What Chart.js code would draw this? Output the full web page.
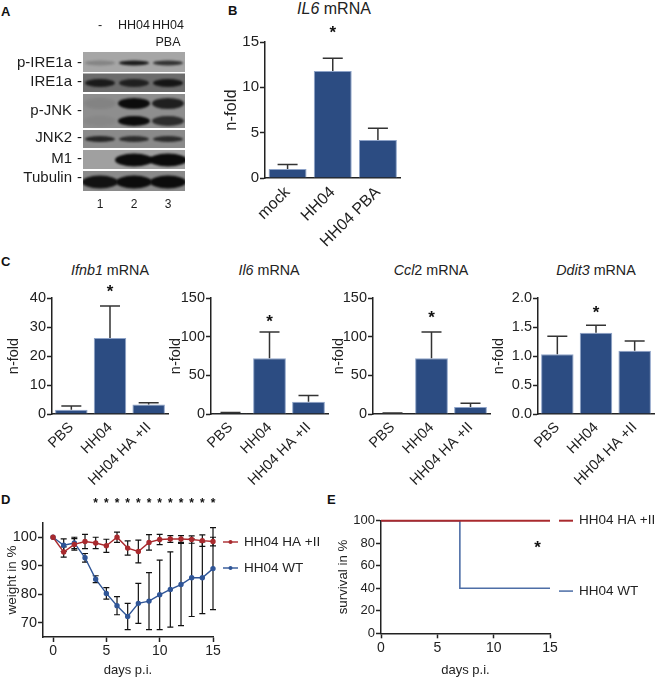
<!DOCTYPE html>
<html>
<head>
<meta charset="utf-8">
<script src="https://cdn.jsdelivr.net/npm/chart.js@4"></script>
<style>
  html, body { margin: 0; padding: 0; background: #fff; }
  #page { position: relative; width: 656px; height: 678px; overflow: hidden; font-family: "Liberation Sans", Arial, sans-serif; color: #222; }
  #page canvas { position: absolute; }
  .letter { position: absolute; font-weight: bold; font-size: 13px; color: #111; }
  .title { position: absolute; transform: translateX(-50%); white-space: nowrap; }
</style>
</head>
<body>
<div id="page">
  <div class="letter" style="left:1px;top:4px">A</div>
  <div class="letter" style="left:228px;top:3px">B</div>
  <div class="letter" style="left:1px;top:254px">C</div>
  <div class="letter" style="left:1px;top:492px">D</div>
  <div class="letter" style="left:327px;top:492px">E</div>
  <div class="title" style="left:334px;top:0px;font-size:16px"><i>IL6</i> mRNA</div>
  <div class="title" style="left:110px;top:262px;font-size:14.3px"><i>Ifnb1</i> mRNA</div>
  <div class="title" style="left:269px;top:262px;font-size:14.3px"><i>Il6</i> mRNA</div>
  <div class="title" style="left:431px;top:262px;font-size:14.3px"><i>Ccl</i>2 mRNA</div>
  <div class="title" style="left:596px;top:262px;font-size:14.3px"><i>Ddit3</i> mRNA</div>
</div>

<script>
// panel A
var blotRows = ['p-IRE1a', 'IRE1a', 'p-JNK', 'JNK2', 'M1', 'Tubulin'];
var blotLanes = ['1', '2', '3'];
var blotStrength = [
    [0.22, 0.9, 0.75],
    [0.85, 0.8, 0.9],
    [0.08, 1, 0.85],
    [0.05, 1, 0.75],
    [0.8, 0.75, 0.75],
    [0, 1, 1],
    [0.95, 1, 1]
];

// panel B
var bLabels = ['mock', 'HH04', 'HH04 PBA'];
var bValues = [1.0, 11.8, 4.2];
var bUpper = [1.5, 13.2, 5.5];
var bTicks = [0, 5, 10, 15];

// panel C
var cLabels = ['PBS', 'HH04', 'HH04 HA +II'];
var ifnb1Values = [1.5, 26.2, 3.3];
var ifnb1Upper = [2.8, 37.2, 3.9];
var ifnb1Ticks = [0, 10, 20, 30, 40];
var il6Values = [1, 72, 16];
var il6Upper = [2, 106, 24];
var ccl2Values = [0.6, 72, 9];
var ccl2Upper = [1.2, 106, 14];
var mouseTicks = [0, 50, 100, 150];
var ddit3Values = [1.03, 1.4, 1.09];
var ddit3Upper = [1.34, 1.53, 1.26];
var ddit3Ticks = [0, 0.5, 1, 1.5, 2];

// panel D
var days = [0, 1, 2, 3, 4, 5, 6, 7, 8, 9, 10, 11, 12, 13, 14, 15];
var haWeight = [100, 94.8, 97.5, 98.5, 98, 97, 100, 96.2, 95, 98.2, 99.2, 99.4, 99.4, 99.2, 98.8, 98.5];
var haError = [0, 1.8, 2, 2.5, 2, 2.3, 1.8, 2.5, 4, 2.7, 1.8, 1.2, 1.2, 1.3, 2, 1.5];
var wtWeight = [100, 97.2, 98, 92.8, 85.3, 80.3, 76, 72.2, 76.8, 77.6, 79.8, 81.7, 83.4, 85.8, 85.8, 89];
var wtError = [0, 2.2, 2, 1.5, 1.2, 2, 3.2, 4.6, 7, 10, 12.2, 13.2, 14.4, 13.6, 12.6, 14.4];
var weightTicks = [70, 80, 90, 100];
var dayTicks = [0, 5, 10, 15];
var starDays = [4, 5, 6, 7, 8, 9, 10, 11, 12, 13, 14, 15];

// panel E
var haSurvivalDays = [0, 15];
var haSurvival = [100, 100];
var wtSurvivalDays = [0, 7, 15];
var wtSurvival = [100, 40, 40];
var survivalTicks = [0, 20, 40, 60, 80, 100];

var FONT = '"Liberation Sans", Arial, sans-serif';
var INK = '#222';
var BAR = '#2c4c82';
var RED = '#a92a2e';
var BLUE = '#2f5597';

function addCanvas(box) {
    var c = document.createElement('canvas');
    c.width = box.w;
    c.height = box.h;
    c.style.left = box.x + 'px';
    c.style.top = box.y + 'px';
    document.getElementById('page').appendChild(c);
    return c;
}

// fixes the plot area to page pixels
function pinLayout(box, plot) {
    return {
        padding: { left: 0, top: plot.top - box.y, right: box.x + box.w - plot.right, bottom: 0 }
    };
}

function valueAxis(box, plot, ticks, max, min, size, titleText, titleSize, titleX, format) {
    return {
        type: 'linear',
        min: min,
        max: max,
        afterFit: function (s) { s.width = plot.left - box.x; },
        afterBuildTicks: function (s) { s.ticks = ticks.map(function (v) { return { value: v }; }); },
        border: { color: INK, width: 1.5 },
        grid: { drawOnChartArea: false, tickColor: INK, tickLength: 5, tickWidth: 1.5 },
        ticks: {
            color: INK, padding: 1, autoSkip: false, font: { family: FONT, size: size },
            callback: format || function (v) { return v; }
        },
        title: {
            display: true, text: titleText, color: INK,
            font: { family: FONT, size: titleSize },
            padding: { top: titleX - titleSize * 0.6, bottom: 0 }
        }
    };
}

function barChart(box, plot, labels, values, upper, ticks, max, opts) {
    var extras = {
        id: 'extras',
        afterDatasetsDraw: function (chart) {
            var ctx = chart.ctx, x = chart.scales.x, y = chart.scales.y;
            ctx.save();
            ctx.strokeStyle = '#333';
            ctx.lineWidth = 1.5;
            upper.forEach(function (u, i) {
                var px = x.getPixelForValue(i);
                ctx.beginPath();
                ctx.moveTo(px, y.getPixelForValue(values[i]));
                ctx.lineTo(px, y.getPixelForValue(u));
                ctx.moveTo(px - 10, y.getPixelForValue(u));
                ctx.lineTo(px + 10, y.getPixelForValue(u));
                ctx.stroke();
            });
            // significance mark over the infected bar
            ctx.fillStyle = '#111';
            ctx.font = 'bold 17px ' + FONT;
            ctx.textAlign = 'center';
            ctx.textBaseline = 'middle';
            ctx.fillText('*', x.getPixelForValue(1), y.getPixelForValue(opts.star) + 3);
            ctx.restore();
        }
    };
    return new Chart(addCanvas(box), {
        type: 'bar',
        plugins: [extras],
        data: {
            labels: labels,
            datasets: [{
                data: values,
                backgroundColor: BAR,
                borderColor: '#8ea3c8',
                borderWidth: 1,
                barPercentage: 0.84,
                categoryPercentage: 1
            }]
        },
        options: {
            responsive: false,
            animation: false,
            layout: pinLayout(box, plot),
            plugins: { legend: { display: false }, tooltip: { enabled: false } },
            scales: {
                x: {
                    afterFit: function (s) { s.height = box.y + box.h - plot.bottom; },
                    border: { color: INK, width: 1.5 },
                    grid: { display: false },
                    ticks: {
                        color: INK, autoSkip: false, minRotation: 45, maxRotation: 45, padding: -3,
                        font: { family: FONT, size: opts.labelSize }
                    }
                },
                y: valueAxis(box, plot, ticks, max, 0, opts.tickSize, 'n-fold', opts.titleSize, opts.titleX, opts.format)
            }
        }
    });
}

// panel A: blot drawn on hidden lane/row scales
var blotBox = { x: 0, y: 0, w: 220, h: 250 };
var blotPlot = { left: 83, right: 185, top: 52, bottom: 191 };
var blotPanels = [
    { row: 0, from: 0, to: 20, shade: '#a6a6a6' },
    { row: 1, from: 21.5, to: 40, shade: '#6c6c6c' },
    { row: 2, from: 42, to: 76, shade: '#8e8e8e' },
    { row: 3, from: 78, to: 96, shade: '#8a8a8a' },
    { row: 4, from: 98, to: 117, shade: '#a0a0a0' },
    { row: 5, from: 119, to: 139, shade: '#8a8a8a' }
];
var blotBands = [
    { panel: 0, y: 11, h: 2.4, w: 15 },
    { panel: 1, y: 31, h: 4, w: 15 },
    { panel: 2, y: 51.5, h: 5.5, w: 16 },
    { panel: 2, y: 69, h: 5, w: 16 },
    { panel: 3, y: 87, h: 3, w: 15 },
    { panel: 4, y: 108, h: 6.5, w: 19 },
    { panel: 5, y: 130, h: 6.5, w: 18 }
];
var blotLabelY = [11, 30, 59, 86, 107, 126];

var blotPlugin = {
    id: 'blot',
    afterDatasetsDraw: function (chart) {
        var ctx = chart.ctx, x = chart.scales.x, y = chart.scales.y;
        var left = x.getPixelForValue(0.5), right = x.getPixelForValue(3.5);
        ctx.save();
        blotPanels.forEach(function (p) {
            ctx.fillStyle = p.shade;
            ctx.fillRect(left, y.getPixelForValue(p.from), right - left, y.getPixelForValue(p.to) - y.getPixelForValue(p.from));
        });
        blotBands.forEach(function (b, i) {
            var p = blotPanels[b.panel];
            ctx.save();
            ctx.beginPath();
            ctx.rect(left, y.getPixelForValue(p.from), right - left, y.getPixelForValue(p.to) - y.getPixelForValue(p.from));
            ctx.clip();
            ctx.filter = 'blur(1.2px)';
            blotStrength[i].forEach(function (s, lane) {
                ctx.fillStyle = 'rgba(12,12,12,' + s + ')';
                ctx.beginPath();
                ctx.ellipse(x.getPixelForValue(lane + 1), y.getPixelForValue(b.y), b.w, b.h, 0, 0, Math.PI * 2);
                ctx.fill();
            });
            ctx.restore();
        });
        ctx.fillStyle = '#1c1c1c';
        ctx.textBaseline = 'middle';
        ctx.font = '15px ' + FONT;
        blotRows.forEach(function (name, i) {
            var py = y.getPixelForValue(blotLabelY[i]);
            ctx.textAlign = 'right';
            ctx.fillText(name, left - 11, py);
            ctx.textAlign = 'left';
            ctx.fillText('-', left - 6, py);
        });
        ctx.textAlign = 'center';
        ctx.font = '12.5px ' + FONT;
        ctx.fillText('-', x.getPixelForValue(1), 26);
        ctx.fillText('HH04', x.getPixelForValue(2), 26);
        ctx.fillText('HH04', x.getPixelForValue(3), 26);
        ctx.fillText('PBA', x.getPixelForValue(3), 43);
        ctx.font = '12px ' + FONT;
        blotLanes.forEach(function (n, i) {
            ctx.fillText(n, x.getPixelForValue(i + 1), 205);
        });
        ctx.restore();
    }
};
new Chart(addCanvas(blotBox), {
    type: 'scatter',
    plugins: [blotPlugin],
    data: { datasets: [{ data: [], pointRadius: 0 }] },
    options: {
        responsive: false,
        animation: false,
        layout: { padding: { left: blotPlot.left, top: blotPlot.top, right: blotBox.w - blotPlot.right, bottom: blotBox.h - blotPlot.bottom } },
        plugins: { legend: { display: false }, tooltip: { enabled: false } },
        scales: {
            x: { display: false, min: 0.5, max: 3.5 },
            y: { display: false, min: 0, max: 139, reverse: true }
        }
    }
});

// panel B
barChart({ x: 215, y: 0, w: 205, h: 250 }, { left: 265, right: 400.5, top: 42, bottom: 178 },
    bLabels, bValues, bUpper, bTicks, 15,
    { star: 16.3, labelSize: 16, tickSize: 15, titleSize: 16.5, titleX: 16 });

// panel C
barChart({ x: 0, y: 278, w: 180, h: 215 }, { left: 52, right: 168, top: 298, bottom: 414 },
    cLabels, ifnb1Values, ifnb1Upper, ifnb1Ticks, 40,
    { star: 43, labelSize: 14.5, tickSize: 14.5, titleSize: 14.5, titleX: 13.5 });
barChart({ x: 165, y: 278, w: 175, h: 215 }, { left: 211, right: 328, top: 298, bottom: 414 },
    cLabels, il6Values, il6Upper, mouseTicks, 150,
    { star: 123, labelSize: 14.5, tickSize: 14.5, titleSize: 14.5, titleX: 10.5 });
barChart({ x: 328, y: 278, w: 175, h: 215 }, { left: 373, right: 490, top: 298, bottom: 414 },
    cLabels, ccl2Values, ccl2Upper, mouseTicks, 150,
    { star: 127, labelSize: 14.5, tickSize: 14.5, titleSize: 14.5, titleX: 10.5 });
barChart({ x: 490, y: 278, w: 180, h: 215 }, { left: 538, right: 654, top: 298, bottom: 414 },
    cLabels, ddit3Values, ddit3Upper, ddit3Ticks, 2,
    { star: 1.79, labelSize: 14.5, tickSize: 14.5, titleSize: 14.5, titleX: 8.5, format: function (v) { return v.toFixed(1); } });

function sideText(ctx, text, x, y) {
    ctx.fillStyle = INK;
    ctx.font = '13.5px ' + FONT;
    ctx.textAlign = 'left';
    ctx.textBaseline = 'middle';
    ctx.fillText(text, x, y);
}

function lineXAxis(box, plot, min) {
    return {
        type: 'linear',
        min: min,
        max: 15,
        afterFit: function (s) { s.height = box.y + box.h - plot.bottom; },
        afterBuildTicks: function (s) { s.ticks = dayTicks.map(function (v) { return { value: v }; }); },
        border: { color: INK, width: 1.5 },
        grid: { drawOnChartArea: false, tickColor: INK, tickLength: 5, tickWidth: 1.5 },
        ticks: { color: INK, padding: 1, autoSkip: false, maxRotation: 0, font: { family: FONT, size: 14 } },
        title: { display: true, text: 'days p.i.', color: INK, font: { family: FONT, size: 13 }, padding: { top: 6, bottom: 0 } }
    };
}

// panel D
var dBox = { x: 0, y: 492, w: 330, h: 186 };
var dPlot = { left: 43, right: 213, top: 523, bottom: 637 };
var dPlugin = {
    id: 'weightExtras',
    beforeDatasetsDraw: function (chart) {
        var ctx = chart.ctx, x = chart.scales.x, y = chart.scales.y;
        ctx.save();
        ctx.strokeStyle = '#111';
        ctx.lineWidth = 1.2;
        [[haWeight, haError], [wtWeight, wtError]].forEach(function (s) {
            days.forEach(function (d, i) {
                if (!s[1][i]) return;
                var px = x.getPixelForValue(d);
                var hi = y.getPixelForValue(s[0][i] + s[1][i]), lo = y.getPixelForValue(s[0][i] - s[1][i]);
                ctx.beginPath();
                ctx.moveTo(px, hi);
                ctx.lineTo(px, lo);
                ctx.moveTo(px - 3, hi);
                ctx.lineTo(px + 3, hi);
                ctx.moveTo(px - 3, lo);
                ctx.lineTo(px + 3, lo);
                ctx.stroke();
            });
        });
        ctx.restore();
    },
    afterDraw: function (chart) {
        var ctx = chart.ctx, x = chart.scales.x;
        var right = chart.chartArea.right;
        ctx.save();
        ctx.fillStyle = '#111';
        ctx.font = 'bold 12px ' + FONT;
        ctx.textAlign = 'center';
        ctx.textBaseline = 'middle';
        starDays.forEach(function (d) {
            ctx.fillText('*', x.getPixelForValue(d), 12);
        });
        [[RED, 'HH04 HA +II', 50], [BLUE, 'HH04 WT', 76]].forEach(function (l) {
            ctx.strokeStyle = l[0];
            ctx.fillStyle = l[0];
            ctx.lineWidth = 1.4;
            ctx.beginPath();
            ctx.moveTo(right + 10, l[2]);
            ctx.lineTo(right + 25, l[2]);
            ctx.stroke();
            ctx.beginPath();
            ctx.arc(right + 17.5, l[2], 2, 0, Math.PI * 2);
            ctx.fill();
            sideText(ctx, l[1], right + 31, l[2]);
        });
        ctx.restore();
    }
};
new Chart(addCanvas(dBox), {
    type: 'line',
    plugins: [dPlugin],
    data: {
        datasets: [
            {
                data: days.map(function (d, i) { return { x: d, y: haWeight[i] }; }),
                borderColor: RED, backgroundColor: RED, borderWidth: 1.4, pointRadius: 2, tension: 0, clip: false
            },
            {
                data: days.map(function (d, i) { return { x: d, y: wtWeight[i] }; }),
                borderColor: BLUE, backgroundColor: BLUE, borderWidth: 1.4, pointRadius: 2, tension: 0, clip: false
            }
        ]
    },
    options: {
        responsive: false,
        animation: false,
        layout: pinLayout(dBox, dPlot),
        plugins: { legend: { display: false }, tooltip: { enabled: false } },
        scales: {
            x: lineXAxis(dBox, dPlot, -0.94),
            y: valueAxis(dBox, dPlot, weightTicks, 105, 65, 14.5, 'weight in %', 13.5, 12)
        }
    }
});

// panel E
var eBox = { x: 330, y: 492, w: 326, h: 186 };
var ePlot = { left: 381, right: 550, top: 520.7, bottom: 633.3 };
var ePlugin = {
    id: 'survivalExtras',
    afterDraw: function (chart) {
        var ctx = chart.ctx, x = chart.scales.x, y = chart.scales.y;
        var right = chart.chartArea.right;
        ctx.save();
        ctx.fillStyle = '#111';
        ctx.font = 'bold 17px ' + FONT;
        ctx.textAlign = 'center';
        ctx.textBaseline = 'middle';
        ctx.fillText('*', x.getPixelForValue(13.9), y.getPixelForValue(78.4) + 3);
        [[RED, 'HH04 HA +II', 100, 2], [BLUE, 'HH04 WT', 37.5, 1.3]].forEach(function (l) {
            var py = y.getPixelForValue(l[2]);
            ctx.strokeStyle = l[0];
            ctx.lineWidth = l[3];
            ctx.beginPath();
            ctx.moveTo(right + 9, py);
            ctx.lineTo(right + 23, py);
            ctx.stroke();
            sideText(ctx, l[1], right + 29, py);
        });
        ctx.restore();
    }
};
new Chart(addCanvas(eBox), {
    type: 'line',
    plugins: [ePlugin],
    data: {
        datasets: [
            {
                data: haSurvivalDays.map(function (d, i) { return { x: d, y: haSurvival[i] }; }),
                borderColor: RED, borderWidth: 2, pointRadius: 0, clip: false
            },
            {
                data: wtSurvivalDays.map(function (d, i) { return { x: d, y: wtSurvival[i] }; }),
                borderColor: 'rgba(47,85,151,0.85)', borderWidth: 1.6, pointRadius: 0, stepped: 'before', clip: false
            }
        ]
    },
    options: {
        responsive: false,
        animation: false,
        layout: pinLayout(eBox, ePlot),
        plugins: { legend: { display: false }, tooltip: { enabled: false } },
        scales: {
            x: lineXAxis(eBox, ePlot, 0),
            y: valueAxis(eBox, ePlot, survivalTicks, 100, 0, 13, 'survival in %', 13.3, 13)
        }
    }
});
</script>
</body>
</html>
